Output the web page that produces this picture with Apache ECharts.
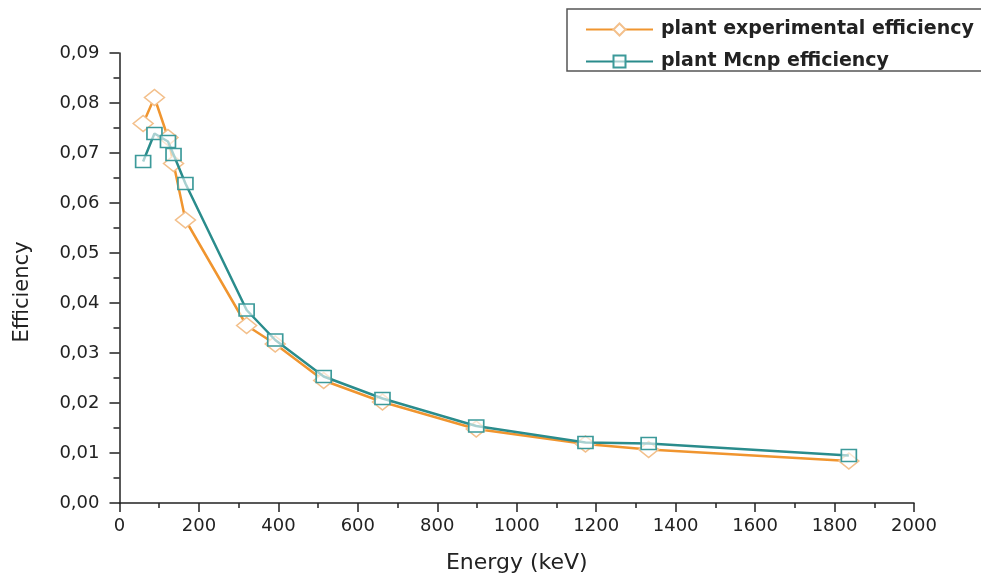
<!DOCTYPE html>
<html>
<head>
<meta charset="utf-8">
<script src="https://cdn.jsdelivr.net/npm/echarts@6/dist/echarts.min.js"></script>
<style>
html,body{margin:0;padding:0;background:#fff;}
#chart{width:981px;height:576px;}
</style>
</head>
<body>
<div id="chart"></div>
<script>
// Energies (keV)
var energies = [59.5, 88, 122, 136, 166, 320, 392, 514, 662, 898, 1173, 1332, 1836];
// plant experimental efficiency
var experimental = [0.0759, 0.0811, 0.0731, 0.0679, 0.0566, 0.0355, 0.0318, 0.0245, 0.0202, 0.0148, 0.0118, 0.0107, 0.0084];
// plant Mcnp efficiency
var mcnp = [0.0683, 0.0739, 0.0723, 0.0697, 0.0639, 0.0386, 0.0326, 0.0253, 0.0209, 0.0154, 0.0121, 0.0119, 0.0095];
var seriesNames = ['plant experimental efficiency', 'plant Mcnp efficiency'];
var xAxisTitle = 'Energy (keV)';
var yAxisTitle = 'Efficiency';

function pairs(xs, ys) { return xs.map(function (x, i) { return [x, ys[i]]; }); }

var chart = echarts.init(document.getElementById('chart'), null, {renderer: 'canvas'});
var font = 'DejaVu Sans';
chart.setOption({
  backgroundColor: '#ffffff',
  animation: false,
  grid: {left: 119.5, right: 67, top: 53, bottom: 73, containLabel: false, outerBoundsMode: 'none'},
  legend: {
    orient: 'vertical',
    left: 567, top: 9,
    align: 'left',
    padding: [11, 40, 0, 18],
    itemGap: 13,
    itemWidth: 67,
    itemHeight: 15,
    borderColor: '#555',
    borderWidth: 1.5,
    textStyle: {fontFamily: font, fontWeight: 'bold', fontSize: 19, color: '#222', padding: [0, 0, 0, 3]},
    data: seriesNames
  },
  xAxis: {
    type: 'value', min: 0, max: 2000, interval: 200,
    name: xAxisTitle, nameLocation: 'middle', nameGap: 49,
    nameTextStyle: {fontFamily: font, fontSize: 22, color: '#222'},
    axisLine: {show: true, onZero: false, lineStyle: {color: '#222', width: 1.5}},
    axisTick: {show: true, inside: false, length: 9, lineStyle: {color: '#222', width: 1.5}},
    minorTick: {show: true, splitNumber: 2, length: 5, lineStyle: {color: '#222', width: 1.5}},
    axisLabel: {fontFamily: font, fontSize: 18, color: '#222', margin: 14,
      formatter: function (v) { return String(v); }},
    splitLine: {show: false}
  },
  yAxis: {
    type: 'value', min: 0, max: 0.09, interval: 0.01,
    name: yAxisTitle, nameLocation: 'middle', nameGap: 86, nameRotate: 90,
    nameTextStyle: {fontFamily: font, fontSize: 21, color: '#222', padding: [0, 28, 0, 0]},
    axisLine: {show: true, onZero: false, lineStyle: {color: '#222', width: 1.5}},
    axisTick: {show: true, inside: false, length: 10, lineStyle: {color: '#222', width: 1.5}},
    minorTick: {show: true, splitNumber: 2, length: 6, lineStyle: {color: '#222', width: 1.5}},
    axisLabel: {
      fontFamily: font, fontSize: 18, color: '#222', margin: 20,
      formatter: function (v) { return v.toFixed(2).replace('.', ','); }
    },
    splitLine: {show: false}
  },
  series: [
    {
      name: seriesNames[0], type: 'line',
      data: pairs(energies, experimental),
      symbol: 'diamond', symbolSize: [20, 16],
      lineStyle: {color: '#F0952F', width: 2.5},
      itemStyle: {color: '#ffffff', borderColor: '#F3C08C', borderWidth: 1.5},
      z: 2
    },
    {
      name: seriesNames[1], type: 'line',
      data: pairs(energies, mcnp),
      symbol: 'rect', symbolSize: [15, 12],
      lineStyle: {color: '#2A8C8C', width: 2.5},
      itemStyle: {color: 'rgba(255,255,255,0.6)', borderColor: '#3C9A9A', borderWidth: 1.5},
      z: 3
    }
  ]
});
</script>
</body>
</html>
